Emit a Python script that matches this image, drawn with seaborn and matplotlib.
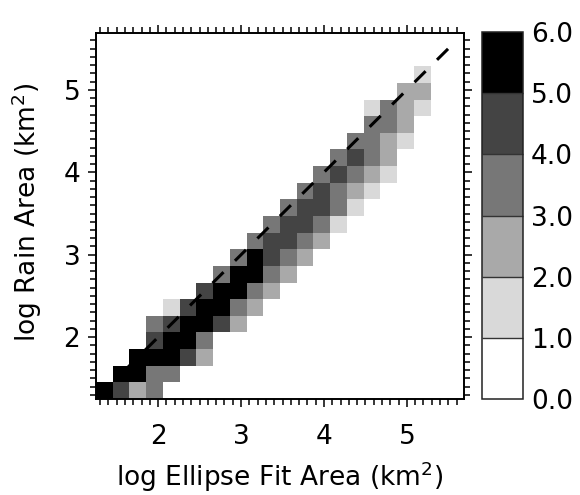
import numpy as np
import pandas as pd
import matplotlib
matplotlib.use("Agg")
import matplotlib.pyplot as plt
from matplotlib.colors import ListedColormap, BoundaryNorm
from matplotlib.ticker import FixedLocator, FixedFormatter, NullFormatter
import seaborn as sns

# ---------------- data ----------------
bin_lo = 1.25          # lower edge of first bin (log km^2)
bin_width = 0.2018     # bin width (log km^2)
n_bins = 22            # bins spanned by each axis

# first occupied column for each row (row 0 = lowest rain area bin)
row_start = [0, 1, 2, 3, 3, 4, 6, 7, 8, 9, 10, 11, 12, 13, 14, 15, 16, 16, 18, 19]
# log10(count) per occupied cell, read as the middle of each shaded class
row_values = [
    [5.5, 4.5, 2.5, 3.5],
    [5.5, 5.5, 3.5, 3.5],
    [5.5, 5.5, 5.5, 4.5, 2.5],
    [4.5, 5.5, 5.5, 3.5],
    [3.5, 4.5, 5.5, 5.5, 4.5, 2.5],
    [1.5, 4.5, 5.5, 5.5, 3.5, 2.5],
    [4.5, 5.5, 5.5, 3.5, 2.5],
    [3.5, 5.5, 5.5, 3.5, 2.5],
    [3.5, 5.5, 4.5, 3.5, 2.5],
    [3.5, 4.5, 4.5, 3.5, 2.5],
    [3.5, 4.5, 4.5, 3.5, 1.5],
    [3.5, 4.5, 4.5, 3.5, 1.5],
    [3.5, 4.5, 3.5, 2.5, 1.5],
    [3.5, 4.5, 3.5, 2.5, 1.5],
    [3.5, 4.5, 3.5, 2.5],
    [3.5, 3.5, 2.5, 1.5],
    [3.5, 3.5, 2.5],
    [1.5, 3.5, 2.5, 1.5],
    [2.5, 2.5],
    [1.5],
]
cbar_levels = [0, 1, 2, 3, 4, 5, 6]
cbar_labels = ["0.0", "1.0", "2.0", "3.0", "4.0", "5.0", "6.0"]
axis_ticks = [2, 3, 4, 5]
axis_ticklabels = ["2", "3", "4", "5"]
one_to_one = [1.25, 5.55]
x_label = "log Ellipse Fit Area (km$^{2}$)"
y_label = "log Rain Area (km$^{2}$)"

shade_colors = ["#ffffff", "#d9d9d9", "#a9a9a9", "#777777", "#444444", "#000000"]

# ---------------- build grid ----------------
grid = np.full((n_bins, n_bins), np.nan)
for r, (s, vals) in enumerate(zip(row_start, row_values)):
    grid[r, s:s + len(vals)] = vals
df = pd.DataFrame(grid)

def to_cell(v):
    return (np.asarray(v, dtype=float) - bin_lo) / bin_width

# ---------------- style ----------------
sns.set_theme(style="ticks")
plt.rcParams["font.family"] = ["DejaVu Sans"]
plt.rcParams["mathtext.fontset"] = "dejavusans"
plt.rcParams["lines.scale_dashes"] = False
FS = 19

W, H = 580, 495
rect = [96 / W, (H - 399) / H, 368 / W, 366 / H]
fig = plt.figure(figsize=(W / 100, H / 100), dpi=100)
ax = fig.add_axes(rect)
cax = fig.add_axes([482 / W, (H - 399.3) / H, 41.3 / W, 367.6 / H])

cmap = ListedColormap(shade_colors)
norm = BoundaryNorm(cbar_levels, cmap.N)

sns.heatmap(df, ax=ax, cbar_ax=cax, cmap=cmap, norm=norm, linewidths=0,
            xticklabels=False, yticklabels=False,
            cbar_kws={"ticks": cbar_levels, "drawedges": True})

ax.set_xlim(0, n_bins)
ax.set_ylim(0, n_bins)
ax.set_xticks([])
ax.set_yticks([])
ax.set_xlabel("")
ax.set_ylabel("")
for s in ax.spines.values():
    s.set_visible(False)

# 1:1 dashed line
d = to_cell(one_to_one)
ax.plot(d, d, color="black", lw=2.2, ls=(18.5, (11.2, 11.6)),
        dash_capstyle="butt")

# frame / ticks / labels on an overlay axes sharing the same cell scale
tax = fig.add_axes(rect, facecolor="none", zorder=5)
tax.set_xlim(0, n_bins)
tax.set_ylim(0, n_bins)
for s in tax.spines.values():
    s.set_visible(True)
    s.set_linewidth(1.4)
    s.set_color("black")

major = list(to_cell(axis_ticks))
minor = list(to_cell([v / 10 for v in range(13, 57) if v % 10 != 0]))
tax.set_yticks(minor, minor=True)
tax.set_xticks(minor, minor=True)
tax.tick_params(which="both", direction="out", left=True, right=True,
                top=True, bottom=True, length=4, width=1.1, color="black")
for axis in (tax.xaxis, tax.yaxis):
    axis.set_major_locator(FixedLocator(major))
    axis.set_major_formatter(FixedFormatter(axis_ticklabels))
    axis.set_minor_formatter(NullFormatter())

tax.tick_params(which="major", length=5.8, labelsize=FS, labelcolor="black",
                labelleft=True, labelbottom=True, labelright=False, labeltop=False)
tax.tick_params(axis="x", which="major", pad=12.5)
tax.tick_params(axis="y", which="major", pad=5.5)

tax.set_xlabel(x_label, fontsize=FS, color="black")
tax.set_ylabel(y_label, fontsize=FS, color="black")
tax.xaxis.set_label_coords(0.5, -0.166)
tax.yaxis.set_label_coords(-0.14, 0.51)

cbar = ax.collections[0].colorbar
cbar.set_ticks(cbar_levels)
cbar.set_ticklabels(cbar_labels)
cbar.ax.tick_params(length=0, pad=5.5, labelsize=FS, labelcolor="black")
cbar.outline.set_edgecolor("#222222")
cbar.outline.set_linewidth(1.1)
cbar.dividers.set_color("#333333")
cbar.dividers.set_linewidth(1.0)

fig.savefig("out.png", dpi=100)
